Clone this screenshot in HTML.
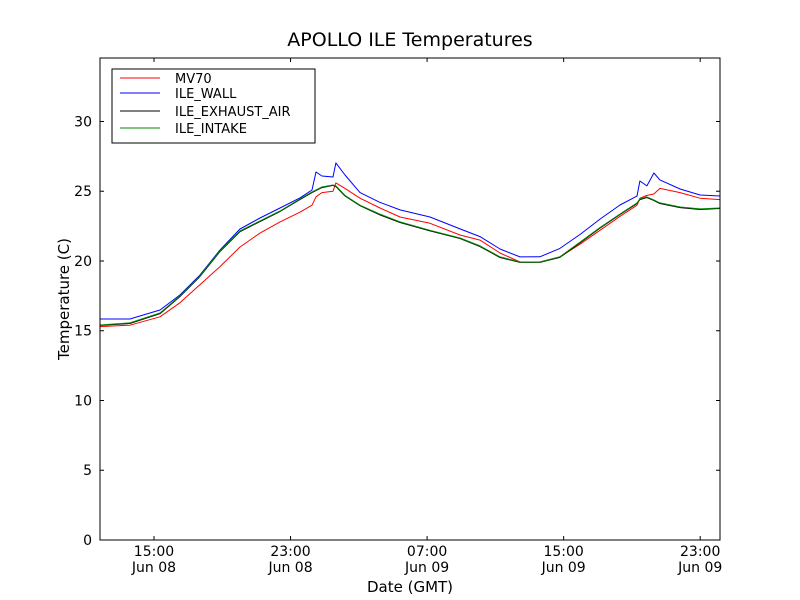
<!DOCTYPE html>
<html><head><meta charset="utf-8"><style>
body{margin:0;background:#fff;}
svg{display:block;font-family:"DejaVu Sans","Liberation Sans",sans-serif;}
</style></head><body>
<svg id="chart" width="800" height="600" viewBox="0 0 800 600">
<rect width="800" height="600" fill="#fff"/>
<text x="410" y="46" font-size="19" text-anchor="middle">APOLLO ILE Temperatures</text>
<g id="plot"></g>
<rect x="100" y="58" width="620" height="482" fill="none" stroke="#000" stroke-width="1"/>
<text x="410" y="592" font-size="15" text-anchor="middle">Date (GMT)</text>
<text x="0" y="0" font-size="15" text-anchor="middle" transform="translate(69,299) rotate(-90)">Temperature (C)</text>
<g>
<rect x="112" y="69" width="203" height="74" fill="#fff" stroke="#000"/>
<line x1="120" y1="78" x2="160" y2="78" stroke="#f00"/>
<text x="175" y="83" font-size="13">MV70</text>
<line x1="120" y1="93" x2="160" y2="93" stroke="#00f"/>
<text x="175" y="98" font-size="13">ILE_WALL</text>
<line x1="120" y1="111" x2="160" y2="111" stroke="#000"/>
<text x="175" y="116" font-size="13">ILE_EXHAUST_AIR</text>
<line x1="120" y1="128" x2="160" y2="128" stroke="#080"/>
<text x="175" y="133" font-size="13">ILE_INTAKE</text>
</g>
</svg>
<script>
const hours = [11.84,13.59,15.35,16.52,17.69,18.87,20.04,21.21,22.38,23.55,24.26,24.49,24.84,25.49,25.66,26.19,27.07,28.24,29.41,31.17,32.93,34.10,35.27,36.44,37.61,38.78,39.96,41.13,42.30,43.30,43.47,43.88,44.29,44.64,45.82,46.99,48.16];
const mv70 = [15.3,15.4,16.0,17.0,18.3,19.6,21.0,22.0,22.8,23.5,24.0,24.6,24.9,25.0,25.6,25.2,24.5,23.8,23.15,22.7,21.86,21.5,20.57,19.93,19.93,20.29,21.2,22.2,23.2,24.0,24.5,24.7,24.8,25.2,24.9,24.5,24.4];
const ileWall = [15.84,15.84,16.49,17.56,18.99,20.79,22.29,23.08,23.80,24.52,25.09,26.38,26.09,26.02,27.03,26.16,24.9,24.2,23.66,23.15,22.30,21.75,20.86,20.29,20.30,20.9,21.9,23.0,24.01,24.66,25.73,25.38,26.31,25.81,25.16,24.73,24.66];
const ileExhaust = [15.38,15.52,16.22,17.45,18.88,20.68,22.10,22.83,23.55,24.40,24.90,25.05,25.26,25.42,25.34,24.66,23.96,23.3,22.76,22.16,21.61,21.04,20.25,19.90,19.90,20.26,21.3,22.36,23.33,24.12,24.40,24.55,24.33,24.12,23.83,23.69,23.76];
const ileIntake = [15.41,15.56,16.27,17.49,18.92,20.72,22.15,22.87,23.58,24.44,24.95,25.09,25.30,25.45,25.38,24.7,24.0,23.35,22.8,22.2,21.65,21.08,20.29,19.93,19.93,20.3,21.35,22.4,23.37,24.16,24.44,24.59,24.37,24.16,23.87,23.73,23.80];
const yTicks = [0,5,10,15,20,25,30];
const xTickHours = [15,23,31,39,47];
const xTickTimes = ["15:00","23:00","07:00","15:00","23:00"];
const xTickDates = ["Jun 08","Jun 08","Jun 09","Jun 09","Jun 09"];

const X0=100,X1=720,Y0=540,Y1=58;
const hMin=11.837,hMax=48.16,vMin=0,vMax=34.55;
function xs(h){return X0+(h-hMin)/(hMax-hMin)*(X1-X0);}
function ys(v){return Y0-(v-vMin)/(vMax-vMin)*(Y0-Y1);}
const NS="http://www.w3.org/2000/svg";
const plot=document.getElementById('plot');
function mk(t,a){const e=document.createElementNS(NS,t);for(const k in a)e.setAttribute(k,a[k]);return e;}
function series(vals,color,name){
  const d=hours.map((h,i)=>(i?'L':'M')+xs(h).toFixed(1)+','+ys(vals[i]).toFixed(1)).join('');
  const p=mk('path',{d:d,fill:'none',stroke:color,'stroke-width':1,'stroke-linejoin':'round'});
  
  
  plot.appendChild(p);
}
series(mv70,'#f00','series-mv70');
series(ileWall,'#00f','series-ile-wall');
series(ileExhaust,'#000','series-ile-exhaust-air');
series(ileIntake,'#080','series-ile-intake');
yTicks.forEach(v=>{
  const y=ys(v);
  plot.appendChild(mk('line',{x1:X0,y1:y,x2:X0+4,y2:y,stroke:'#000'}));
  plot.appendChild(mk('line',{x1:X1-4,y1:y,x2:X1,y2:y,stroke:'#000'}));
  const t=mk('text',{x:X0-8,y:y+5,'font-size':14,'text-anchor':'end'});
  t.textContent=v;
  
  
  plot.appendChild(t);
});
xTickHours.forEach((h,i)=>{
  const x=xs(h);
  plot.appendChild(mk('line',{x1:x,y1:Y0,x2:x,y2:Y0-4,stroke:'#000'}));
  plot.appendChild(mk('line',{x1:x,y1:Y1,x2:x,y2:Y1+4,stroke:'#000'}));
  const t=mk('text',{x:x,y:556,'font-size':14,'text-anchor':'middle'});
  t.textContent=xTickTimes[i];
  
  
  plot.appendChild(t);
  const t2=mk('text',{x:x,y:572,'font-size':14,'text-anchor':'middle'});
  t2.textContent=xTickDates[i];
  
  
  plot.appendChild(t2);
});
</script>
</body></html>
